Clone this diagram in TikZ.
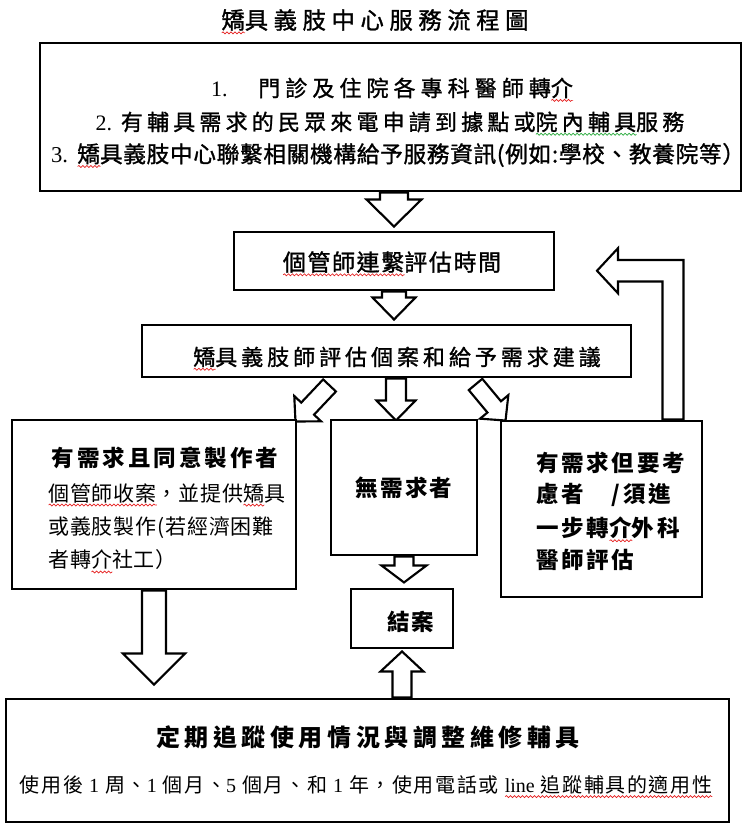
\documentclass[tikz,border=0pt]{standalone}
\usepackage{fontspec}
\setmainfont{Noto Sans CJK TC}
\newfontfamily\lat{Liberation Serif}
\usetikzlibrary{calc,fit,decorations.pathmorphing}
\pgfdeclarelayer{back}
\pgfdeclarelayer{arrows}
\pgfsetlayers{back,arrows,main}
\definecolor{sqred}{RGB}{230,30,30}
\definecolor{sqgreen}{RGB}{40,170,60}
\newsavebox\sqbox
\newlength\sqlen
\newcommand\sqz[2][sqred]{\sbox\sqbox{#2}\setlength\sqlen{\wd\sqbox}\leavevmode\rlap{\smash{\tikz[baseline=0pt]\draw[#1,line width=0.5pt,solid,fill=none,decorate,decoration={snake,amplitude=0.75pt,segment length=3pt}] (0pt,-3pt) -- (\the\sqlen,-3pt);}}\usebox\sqbox}
\newcommand\ls[1]{\addfontfeature{LetterSpace=#1}}
\newcommand\med{\addfontfeature{FakeBold=1.2}}
\newcommand\blockarr[5]{%
  \coordinate (hb) at ($(#2)!#5!(#1)$);
  \draw[blockarrow] ($(#1)!#3!90:(#2)$) -- ($(hb)!#3!90:(#2)$) -- ($(hb)!#4!90:(#2)$) -- (#2)
     -- ($(hb)!#4!-90:(#2)$) -- ($(hb)!#3!-90:(#2)$) -- ($(#1)!#3!-90:(#2)$) -- cycle;}
\begin{document}
\begin{tikzpicture}[x=0.75pt,y=-0.75pt,
  box/.style={draw,line width=2.2pt,fill=white,inner sep=0pt},
  blockarrow/.style={draw,fill=white,line width=1.6pt,line join=miter},
  txt/.style={inner sep=0pt}]
\begin{pgfonlayer}{back}
\fill[white] (0,0) rectangle (746,830);
\end{pgfonlayer}
\useasboundingbox (0,0) rectangle (746,830);

% boxes
\node[box, fit={(40,43)(741,191)}] (top) {};
\node[box, fit={(234,232)(554,290)}] (gm) {};
\node[box, fit={(142,325)(631,377)}] (b3) {};
\node[box, fit={(12,420)(296,589)}] (lb) {};
\node[box, fit={(331,420)(477,555)}] (nb) {};
\node[box, fit={(501,421)(702,597)}] (rb) {};
\node[box, fit={(351,589)(453,648)}] (ja) {};
\node[box, fit={(6,699)(729,822)}] (bot) {};

% texts
\node[txt, font=\fontsize{17.5pt}{20pt}\selectfont\med\ls{24}] (title) at (375,20) {\sqz{矯}具義肢中心服務流程圖};
\node[txt, font=\fontsize{16.5pt}{20pt}\selectfont\med\ls{23}] (t1) at (392,88) {{\lat 1.}\hspace{23pt}門診及住院各專科醫師轉\sqz{介}};
\node[txt, font=\fontsize{16.5pt}{20pt}\selectfont\med\ls{19}] (t2) at (390,122) {{\lat 2.}\hspace{6.5pt}有輔具需求的民眾來電申請到據點或\sqz[sqgreen]{院內輔具}服務};
\node[txt, font=\fontsize{17pt}{20pt}\selectfont\med\ls{3}] (t3) at (398,155) {{\lat 3.}\hspace{7pt}\sqz{矯}具義肢中心聯繫相關機構給予服務資訊(例如:學校、教養院等）};
\node[txt, font=\fontsize{17.25pt}{20pt}\selectfont\med\ls{7}] (gmt) at (392,262) {\sqz{個管師連繫}評估時間};
\node[txt, font=\fontsize{16.5pt}{20pt}\selectfont\med\ls{18}] (b3t) at (397,357) {\sqz{矯}具義肢師評估個案和給予需求建議};
\node[txt, font=\fontsize{16.9pt}{20pt}\selectfont\bfseries\ls{13}] (lbh) at (165,458) {有需求且同意製作者};
\node[txt, anchor=west, font=\fontsize{15.75pt}{20pt}\selectfont\ls{4}] (lb2) at (48,493) {\sqz{個管師收案}，並提供\sqz{矯}具};
\node[txt, anchor=west, font=\fontsize{15.75pt}{20pt}\selectfont\ls{4}] (lb3) at (48,528) {或義肢製作(若經濟困難};
\node[txt, anchor=west, font=\fontsize{15.75pt}{20pt}\selectfont\ls{4}] (lb4) at (48,560) {者轉\sqz{介}社工）};
\node[txt, font=\fontsize{16.9pt}{20pt}\selectfont\bfseries\ls{10}] (nbt) at (404,488) {無需求者};
\node[txt, anchor=west, font=\fontsize{16.9pt}{20pt}\selectfont\bfseries\ls{12}] (rb1) at (536,463) {有需求但要考};
\node[txt, anchor=west, font=\fontsize{16.9pt}{20pt}\selectfont\bfseries\ls{12}] (rb2) at (536,495) {慮者　/須進};
\node[txt, anchor=west, font=\fontsize{16.9pt}{20pt}\selectfont\bfseries\ls{12}] (rb3) at (536,528) {一步轉\sqz{介}外科};
\node[txt, anchor=west, font=\fontsize{16.9pt}{20pt}\selectfont\bfseries\ls{12}] (rb4) at (536,560) {醫師評估};
\node[txt, font=\fontsize{16.9pt}{20pt}\selectfont\bfseries\ls{5}] (jat) at (411,622) {結案};
\node[txt, font=\fontsize{18pt}{20pt}\selectfont\bfseries\ls{19}] (bot1) at (368,737) {定期追蹤使用情況與調整維修輔具};
\node[txt, font=\fontsize{15pt}{20pt}\selectfont\ls{8}] (bot2) at (366,785) {使用後 {\lat 1} 周、{\lat 1} 個月、{\lat 5} 個月、和 {\lat 1} 年，使用電話或 \sqz{{\lat line} 追蹤輔具的適用性}};

% arrows
\begin{pgfonlayer}{arrows}
\coordinate (a1s) at (gm.north |- top.south);
\coordinate (a1e) at ($(gm.north)+(0,-4)$);
\blockarr{a1s}{a1e}{10.5pt}{20.6pt}{20.25pt}
\coordinate (a2s) at (gm.south);
\coordinate (a2e) at ($(gm.south |- b3.north)+(0,-4)$);
\blockarr{a2s}{a2e}{9pt}{16.1pt}{16.5pt}
\coordinate (a3s) at ($(b3.south)+(9.5,0)$);
\coordinate (a3e) at ($(a3s |- nb.north)+(0,2)$);
\blockarr{a3s}{a3e}{7.5pt}{14.6pt}{15pt}
\coordinate (a4s) at ($(b3.south west)+(189,7)$);
\coordinate (a4e) at ($(lb.north east)+(-2,3)$);
\blockarr{a4s}{a4e}{6.6pt}{13.8pt}{13.3pt}
\coordinate (a5s) at ($(b3.south west)+(335,6)$);
\coordinate (a5e) at ($(rb.north west)+(6,1)$);
\blockarr{a5s}{a5e}{6.6pt}{13.8pt}{13.3pt}
\coordinate (a6s) at (nb.south);
\coordinate (a6e) at ($(nb.south)+(0,26)$);
\blockarr{a6s}{a6e}{7.1pt}{16.9pt}{12.75pt}
\coordinate (a7s) at (lb.south);
\coordinate (a7e) at ($(lb.south |- bot.north)+(0,-13)$);
\blockarr{a7s}{a7e}{9pt}{23.25pt}{23.25pt}
\coordinate (a8s) at (ja.south |- bot.north);
\coordinate (a8e) at ($(ja.south)+(0,2)$);
\blockarr{a8s}{a8e}{7.1pt}{16.1pt}{15pt}
\coordinate (ea) at ($(rb.north east)+(-41,0)$);
\coordinate (eb) at ($(rb.north east)+(-20,0)$);
\draw[blockarrow] (ea) |- (618,281.5) -- (618,293.3) -- (597,270.75) -- (618,248.2) -- (618,260) -| (eb) -- cycle;
\end{pgfonlayer}
\end{tikzpicture}
\end{document}
